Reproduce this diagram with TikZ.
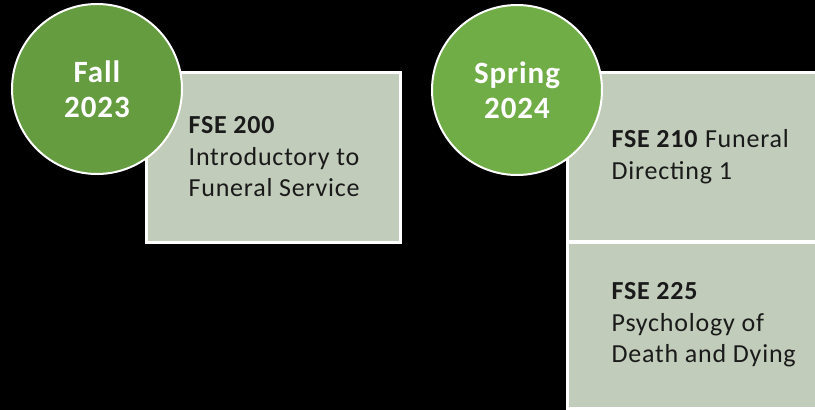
\documentclass[tikz,border=0pt]{standalone}
\usepackage{fontspec}
\usepackage{xcolor}
\usepackage{tikz}
\usetikzlibrary{positioning}
\setmainfont{Carlito}
\newfontfamily\termfont{Carlito}[LetterSpace=3]
\newfontfamily\coursefont{Carlito}[LetterSpace=3]
\definecolor{fallgreen}{HTML}{659C40}
\definecolor{springgreen}{HTML}{70AD47}
\definecolor{coursefill}{HTML}{C1CCBA}
\definecolor{coursetextcol}{HTML}{1A1A1A}

\begin{document}
\begin{tikzpicture}[x=1pt,y=-1pt,
  term/.style={circle,draw=white,line width=2pt,minimum size=170pt,inner sep=0pt,
    text=white,align=center,font=\termfont\fontsize{31}{35}\selectfont\bfseries},
  course/.style={rectangle,draw=white,line width=3pt,fill=coursefill,inner sep=0pt,minimum width=254pt},
  coursetext/.style={align=left,inner sep=0pt,text=coursetextcol,font=\coursefont\fontsize{26}{31.5}\selectfont}]
% Background
\fill[black] (0,0) rectangle (815,410);
\useasboundingbox (0,0) rectangle (815,410);

% Fall 2023
\node[course,minimum height=170pt] (fse200) at (273,157) {};
\node[coursetext,right=44pt of fse200.west] (fse200txt) {\textbf{FSE 200}\\Introductory to\\Funeral Service};
\node[term,fill=fallgreen] (fall) at (97,89) {Fall\\2023};

% Spring 2024
\node[course,minimum height=169pt] (fse210) at (694,156.5) {};
\node[coursetext,right=46pt of fse210.west] (fse210txt) {\textbf{FSE 210} Funeral\\Directing 1};
\node[course,minimum height=166pt] (fse225) at (694,325) {};
\node[coursetext,right=46pt of fse225.west] (fse225txt) {\textbf{FSE 225}\\Psychology of\\Death and Dying};
\node[term,fill=springgreen] (spring) at (517,90) {Spring\\2024};

\end{tikzpicture}
\end{document}
